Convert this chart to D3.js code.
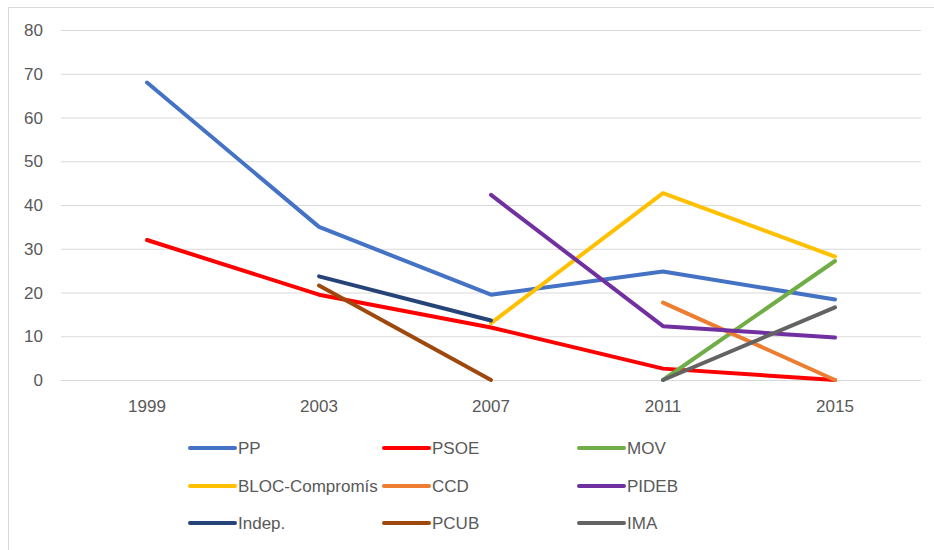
<!DOCTYPE html>
<html>
<head>
<meta charset="utf-8">
<script src="https://cdn.jsdelivr.net/npm/d3@7"></script>
<style>
  body { margin: 0; background: #fff; }
  svg text { font-family: "Liberation Sans", Arial, sans-serif; fill: #595959; }
</style>
</head>
<body>
<div id="plot-container"></div>
<script>
'use strict';
// election years on the x axis
const years = ["1999", "2003", "2007", "2011", "2015"];
const yTicks = [0, 10, 20, 30, 40, 50, 60, 70, 80];
const parties = ["PP", "PSOE", "MOV", "BLOC-Compromís", "CCD", "PIDEB", "Indep.", "PCUB", "IMA"];
const partyColors = ["#4472C4", "#FF0000", "#70AD47", "#FFC000", "#ED7D31", "#7030A0", "#264478", "#9E480E", "#636363"];
// one value per year, null where the party did not run
const ppValues     = [68, 35, 19.5, 24.8, 18.4];
const psoeValues   = [32, 19.5, 12, 2.6, 0];
const movValues    = [null, null, null, 0, 27.2];
const blocValues   = [null, null, 13, 42.7, 28.2];
const ccdValues    = [null, null, null, 17.7, 0];
const pidebValues  = [null, null, 42.3, 12.3, 9.7];
const indepValues  = [null, 23.7, 13.6, null, null];
const pcubValues   = [null, 21.6, 0, null, null];
const imaValues    = [null, null, null, 0, 16.6];

(function () {
  const width = 934, height = 550;
  const margin = {top: 30, left: 61, right: 13, bottom: 170};
  const series = [ppValues, psoeValues, movValues, blocValues, ccdValues, pidebValues, indepValues, pcubValues, imaValues];

  const svg = d3.select("#plot-container").append("svg")
      .attr("width", width)
      .attr("height", height);

  // chart frame (only top and left edges fall inside the picture)
  svg.append("rect")
      .attr("x", 8.5).attr("y", 7.5)
      .attr("width", 940).attr("height", 560)
      .attr("fill", "#fff")
      .attr("stroke", "#d9d9d9");

  const x = d3.scaleBand().domain(years).range([margin.left, width - margin.right]);
  const y = d3.scaleLinear().domain([0, 80]).range([height - margin.bottom, margin.top]);

  // gridlines
  svg.append("g").selectAll("line")
    .data(yTicks)
    .join("line")
      .attr("x1", margin.left).attr("x2", width - margin.right)
      .attr("y1", d => y(d) + 0.5).attr("y2", d => y(d) + 0.5)
      .attr("stroke", "#d9d9d9")
      .attr("stroke-width", 1);

  // y labels
  svg.append("g").selectAll("text")
    .data(yTicks)
    .join("text")
      .attr("x", 43)
      .attr("y", d => y(d))
      .attr("dy", "0.36em")
      .attr("text-anchor", "end")
      .style("font-size", "17px")
      .text(d => d);

  // x labels
  svg.append("g").selectAll("text")
    .data(years)
    .join("text")
      .attr("x", d => x(d) + x.bandwidth() / 2)
      .attr("y", 412)
      .attr("text-anchor", "middle")
      .style("font-size", "17px")
      .text(d => d);

  const line = d3.line()
      .defined(d => d.v !== null)
      .x(d => x(d.year) + x.bandwidth() / 2)
      .y(d => y(d.v));

  series.forEach((vals, i) => {
    const pts = vals.map((v, j) => ({year: years[j], v: v}));
    svg.append("path")
        .datum(pts)
        .attr("d", line)
        .attr("fill", "none")
        .attr("stroke", partyColors[i])
        .attr("stroke-width", 4)
        .attr("stroke-linejoin", "round")
        .attr("stroke-linecap", "round");
  });

  // legend, three columns
  const colX = [190, 384, 579];
  const rowY = [448, 486, 523];
  const legend = svg.append("g").selectAll("g")
    .data(parties)
    .join("g")
      .attr("transform", (d, i) => `translate(${colX[i % 3]},${rowY[Math.floor(i / 3)]})`);
  legend.append("line")
      .attr("x1", 0).attr("x2", 45)
      .attr("stroke", (d, i) => partyColors[i])
      .attr("stroke-width", 4)
      .attr("stroke-linecap", "round");
  legend.append("text")
      .attr("x", 48)
      .attr("dy", "0.36em")
      .style("font-size", "17px")
      .text(d => d);
})();
</script>
</body>
</html>
